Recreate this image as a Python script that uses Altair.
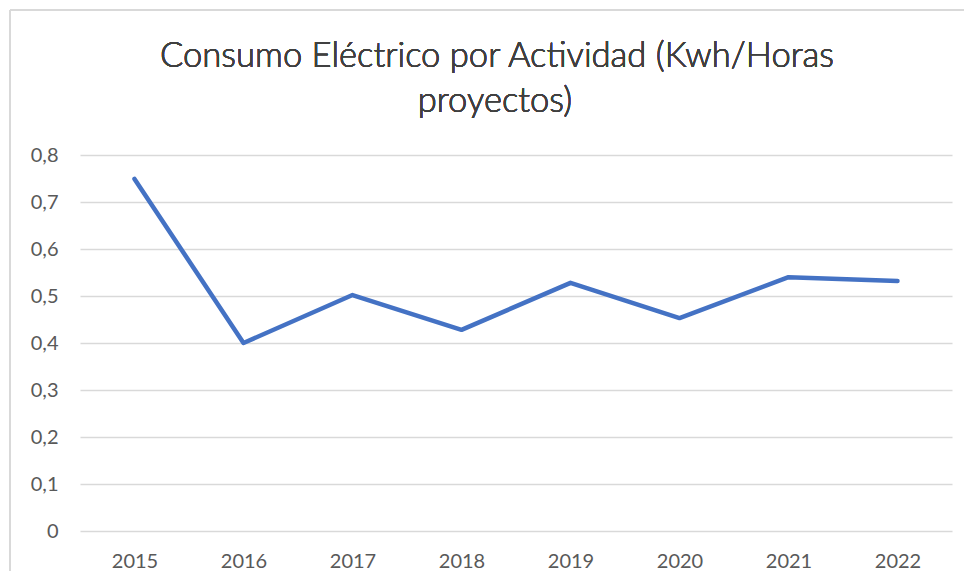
import altair as alt
import pandas as pd

years = ["2015", "2016", "2017", "2018", "2019", "2020", "2021", "2022"]
values = [0.749, 0.400, 0.502, 0.428, 0.528, 0.453, 0.540, 0.532]
title_lines = ["Consumo Eléctrico por Actividad (Kwh/Horas", "proyectos)"]
y_ticks = [0, 0.1, 0.2, 0.3, 0.4, 0.5, 0.6, 0.7, 0.8]

df = pd.DataFrame({"year": years, "value": values})

W, H = 872, 376
FONT = "Lato"

line = alt.Chart(df).mark_line(color="#4472C4", strokeWidth=4.5, strokeCap="round", strokeJoin="round").encode(
    x=alt.X("year:N", sort=years, title=None,
            scale=alt.Scale(paddingInner=0, paddingOuter=0.5, align=0.5),
            axis=alt.Axis(labelAngle=0, domain=False, ticks=False, grid=False,
                          labelFont=FONT, labelFontSize=20, labelColor="#595959", labelPadding=20)),
    y=alt.Y("value:Q", title=None,
            scale=alt.Scale(domain=[0, 0.8], nice=False),
            axis=alt.Axis(values=y_ticks, domain=False, ticks=False, gridColor="#D9D9D9", gridWidth=1.5,
                          labelFont=FONT, labelFontSize=20, labelColor="#595959", labelPadding=22,
                          labelExpr="datum.value == 0 ? '0' : replace(format(datum.value, '.1f'), '.', ',')")),
)

frame_left = alt.Chart(df).mark_rule(color="#D9D9D9", strokeWidth=1.5).encode(
    x=alt.value(-70), y=alt.value(-145), y2=alt.value(H + 80))
frame_top = alt.Chart(df).mark_rule(color="#D9D9D9", strokeWidth=1.5).encode(
    x=alt.value(-70), x2=alt.value(W + 60), y=alt.value(-145))

title1 = alt.Chart(df).mark_text(font=FONT, fontSize=34.6, fontWeight=300, color="#404040", align="center",
                                 baseline="alphabetic").encode(
    x=alt.value(417), y=alt.value(-88.5), text=alt.value(title_lines[0]))
title2 = alt.Chart(df).mark_text(font=FONT, fontSize=34.6, fontWeight=300, color="#404040", align="center",
                                 baseline="alphabetic").encode(
    x=alt.value(415), y=alt.value(-43), text=alt.value(title_lines[1]))

chart = alt.layer(frame_left, frame_top, line, title1, title2).properties(
    width=W, height=H,
    autosize=alt.AutoSizeParams(type="none"),
    padding={"left": 72, "top": 147, "right": 12, "bottom": 40},
).configure_view(stroke=None)

chart.save("out.html", embed_options={"renderer": "svg", "actions": False})
